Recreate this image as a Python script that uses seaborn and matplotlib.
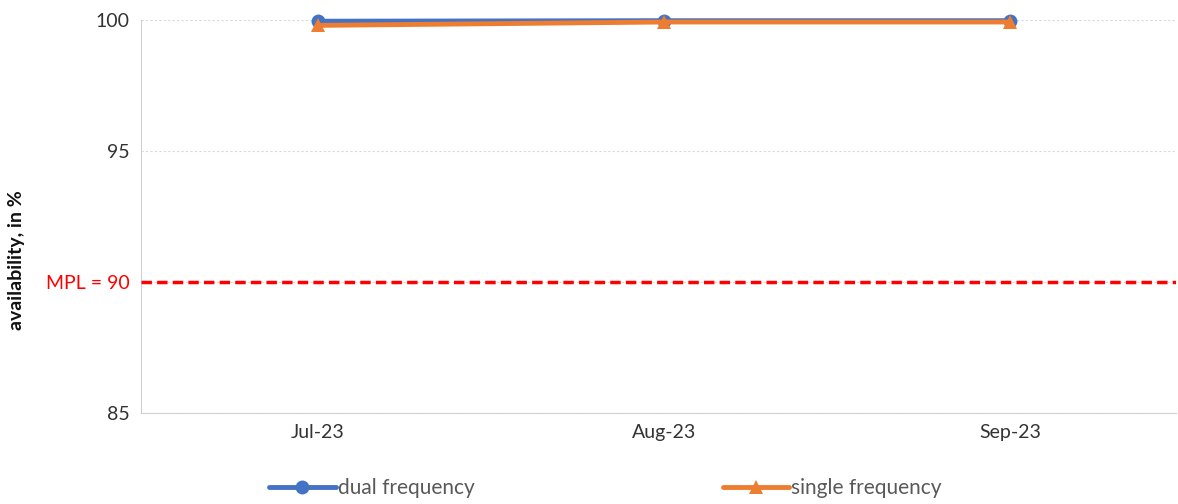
import matplotlib.pyplot as plt
import seaborn as sns
import pandas as pd

months = ['Jul-23', 'Aug-23', 'Sep-23']
dual = [99.96, 99.98, 99.98]
single = [99.80, 99.93, 99.93]
mpl_level = 90

df = pd.DataFrame({
    'x': list(range(len(months))) * 2,
    'value': dual + single,
    'series': ['dual frequency'] * 3 + ['single frequency'] * 3,
})

sns.set_style('white')
plt.rcParams['font.family'] = ['Lato', 'DejaVu Sans']

fig = plt.figure(figsize=(11.78, 5.04), dpi=100)
ax = fig.add_axes([0.1197, 0.1806, 0.879, 0.7794])

colors = {'dual frequency': '#4472C4', 'single frequency': '#ED7D31'}
markers = {'dual frequency': 'o', 'single frequency': '^'}
sns.lineplot(data=df, x='x', y='value', hue='series', style='series',
             palette=colors, markers=markers, dashes=False, linewidth=3.5,
             markersize=10, markeredgewidth=0, ax=ax, legend=False)
for line in ax.lines:
    line.set_clip_on(False)

ax.axhline(mpl_level, color='#FF0000', linestyle=(0, (3, 1.5)), linewidth=2.5, zorder=3)

ax.set_xlim(-0.51, 2.48)
ax.set_ylim(85, 100)
ax.set_xticks(range(len(months)))
ax.set_xticklabels(months, fontsize=14, color='#333333')
ax.set_yticks([85, 90, 95, 100])
ax.set_yticklabels(['85', 'MPL = 90', '95', '100'], fontsize=14, color='#333333')
ax.get_yticklabels()[1].set_color('#FF0000')
ax.tick_params(axis='both', length=0, pad=8)
ax.set_xlabel('')
ax.set_ylabel('availability, in %', fontsize=14, fontweight='bold', color='#111111')
ax.yaxis.set_label_coords(-0.112, 0.39)

ax.grid(axis='y', color='#D9D9D9', linestyle=(0, (2, 2)), linewidth=0.8)
ax.set_axisbelow(True)
for side in ['top', 'right']:
    ax.spines[side].set_visible(False)
ax.spines['left'].set_color('#D0D0D0')
ax.spines['bottom'].set_color('#D0D0D0')

handles = [
    plt.Line2D([], [], color=colors['dual frequency'], marker='o', lw=3.5, ms=10, mew=0),
    plt.Line2D([], [], color=colors['single frequency'], marker='^', lw=3.5, ms=10, mew=0),
]
fig.legend(handles, ['dual frequency', 'single frequency'], loc='lower center',
           bbox_to_anchor=(0.514, -0.025), ncol=2, frameon=False, fontsize=15,
           columnspacing=11.9, handlelength=3.2, handletextpad=0.1,
           labelcolor='#595959')

plt.savefig('out.png', dpi=100)
